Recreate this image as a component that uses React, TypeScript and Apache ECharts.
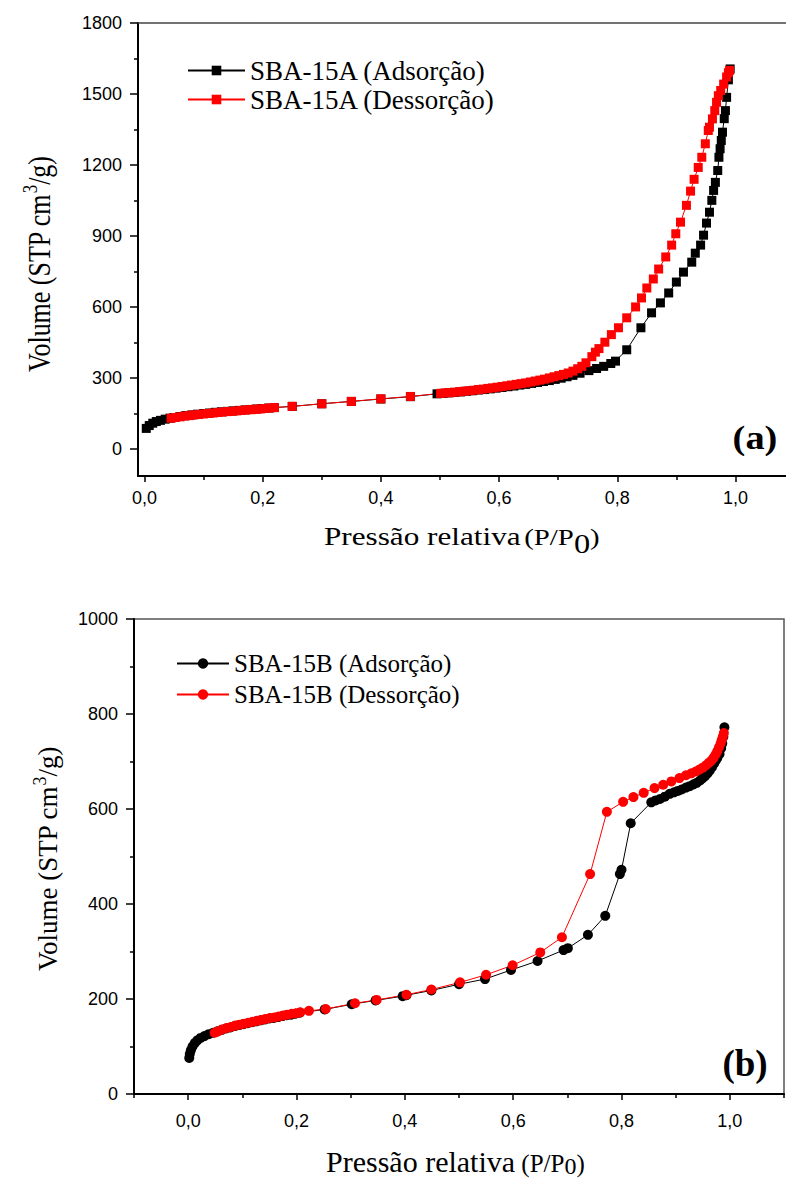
import React, { useEffect, useRef } from "react";
import * as echarts from "echarts";

// ---------- DATA ----------
const seriesNamesA = ["SBA-15A (Adsorção)", "SBA-15A (Dessorção)"];
const seriesNamesB = ["SBA-15B (Adsorção)", "SBA-15B (Dessorção)"];

// (a) adsorption [P/P0, volume]
const adsorptionA: [number, number][] = [
  [0.003, 88], [0.008, 100], [0.014, 110], [0.020, 117], [0.027, 122], [0.035, 127], [0.043, 131],
  [0.050, 134], [0.060, 138], [0.070, 142], [0.080, 145], [0.090, 148], [0.100, 151], [0.110, 153],
  [0.120, 156], [0.130, 158], [0.140, 160], [0.150, 162], [0.160, 164], [0.170, 166], [0.180, 168],
  [0.190, 170], [0.200, 172], [0.210, 174], [0.220, 176], [0.250, 181], [0.300, 192], [0.350, 202],
  [0.400, 212], [0.450, 222], [0.495, 234], [0.505, 236], [0.515, 238], [0.525, 240], [0.535, 242],
  [0.545, 245], [0.555, 247], [0.565, 250], [0.575, 252], [0.585, 255], [0.595, 258], [0.605, 261],
  [0.615, 264], [0.625, 267], [0.635, 271], [0.645, 274], [0.655, 278], [0.665, 282], [0.675, 286],
  [0.685, 290], [0.695, 295], [0.705, 300], [0.715, 306], [0.725, 312], [0.737, 321], [0.752, 332],
  [0.765, 341], [0.777, 350], [0.789, 362], [0.797, 372], [0.816, 420], [0.840, 513], [0.858, 576],
  [0.873, 618], [0.887, 660], [0.900, 706], [0.912, 748], [0.926, 790], [0.932, 828], [0.941, 862],
  [0.946, 904], [0.951, 955], [0.956, 1001], [0.960, 1051], [0.963, 1093], [0.966, 1127], [0.970, 1177],
  [0.972, 1233], [0.974, 1269], [0.976, 1304], [0.978, 1339], [0.981, 1396], [0.983, 1430], [0.985, 1486],
  [0.988, 1560], [0.991, 1606],
];

// (a) desorption [P/P0, volume]
const desorptionA: [number, number][] = [
  [0.990, 1600], [0.988, 1590], [0.985, 1572], [0.980, 1542], [0.975, 1515], [0.971, 1493], [0.968, 1465],
  [0.965, 1430], [0.961, 1395], [0.956, 1360], [0.954, 1346], [0.949, 1290], [0.943, 1233], [0.937, 1190],
  [0.930, 1140], [0.924, 1090], [0.917, 1030], [0.907, 959], [0.899, 910], [0.892, 862], [0.882, 812],
  [0.870, 761], [0.861, 719], [0.850, 681], [0.841, 639], [0.831, 601], [0.816, 555], [0.802, 513],
  [0.790, 484], [0.779, 452], [0.769, 425], [0.763, 410], [0.757, 391], [0.747, 365], [0.740, 350],
  [0.733, 340], [0.725, 330], [0.717, 322], [0.709, 316], [0.701, 311], [0.693, 306], [0.685, 301],
  [0.677, 296], [0.669, 292], [0.661, 288], [0.653, 284], [0.645, 280], [0.637, 277], [0.629, 274],
  [0.621, 271], [0.613, 268], [0.605, 265], [0.597, 262], [0.589, 259], [0.581, 257], [0.573, 254],
  [0.565, 252], [0.557, 249], [0.549, 247], [0.541, 245], [0.533, 243], [0.525, 241], [0.517, 239],
  [0.509, 238], [0.501, 236], [0.450, 223], [0.400, 213], [0.350, 202], [0.300, 192], [0.250, 181],
  [0.220, 176], [0.212, 174], [0.204, 172], [0.196, 170], [0.188, 169], [0.180, 167], [0.172, 166],
  [0.164, 164], [0.156, 162], [0.148, 160], [0.140, 159], [0.132, 157], [0.124, 155], [0.116, 153],
  [0.108, 151], [0.100, 149], [0.092, 147], [0.084, 145], [0.076, 142], [0.068, 140], [0.060, 137],
  [0.052, 134], [0.045, 131],
];

// (b) adsorption [P/P0, volume]
const adsorptionB: [number, number][] = [
  [0.002, 76], [0.003, 84], [0.005, 92], [0.008, 100], [0.012, 107], [0.017, 113], [0.023, 118],
  [0.030, 122], [0.038, 126], [0.046, 129], [0.054, 132], [0.062, 135], [0.070, 138], [0.078, 140],
  [0.086, 143], [0.094, 145], [0.102, 147], [0.110, 149], [0.118, 151], [0.126, 153], [0.134, 155],
  [0.142, 157], [0.150, 159], [0.158, 160], [0.166, 162], [0.174, 164], [0.182, 166], [0.190, 167],
  [0.198, 169], [0.206, 171], [0.252, 178], [0.302, 189], [0.346, 197], [0.396, 206], [0.403, 208],
  [0.449, 218], [0.500, 231], [0.548, 242], [0.596, 261], [0.645, 280], [0.693, 303], [0.701, 307],
  [0.738, 335], [0.770, 375], [0.797, 463], [0.800, 472], [0.817, 570], [0.855, 614], [0.863, 618],
  [0.871, 621], [0.880, 626], [0.889, 632], [0.897, 635], [0.904, 638], [0.911, 641], [0.919, 645],
  [0.926, 648], [0.933, 652], [0.939, 655], [0.945, 660], [0.950, 665], [0.954, 669], [0.959, 675],
  [0.963, 681], [0.967, 688], [0.971, 696], [0.974, 702], [0.977, 708], [0.981, 716], [0.984, 728],
  [0.986, 738], [0.988, 752], [0.990, 772],
];

// (b) desorption [P/P0, volume]
const desorptionB: [number, number][] = [
  [0.989, 760], [0.987, 752], [0.985, 745], [0.983, 738], [0.980, 730], [0.977, 722], [0.974, 715],
  [0.970, 708], [0.966, 702], [0.961, 697], [0.956, 692], [0.950, 687], [0.944, 683], [0.937, 679],
  [0.929, 675], [0.919, 671], [0.907, 665], [0.892, 658], [0.877, 651], [0.861, 644], [0.841, 634],
  [0.822, 625], [0.803, 615], [0.773, 594], [0.742, 463], [0.690, 330], [0.650, 298], [0.599, 271],
  [0.550, 251], [0.502, 235], [0.449, 220], [0.403, 209], [0.348, 198], [0.308, 191], [0.254, 179],
  [0.223, 175], [0.207, 172], [0.199, 170], [0.191, 169], [0.183, 167], [0.175, 165], [0.167, 163],
  [0.159, 161], [0.151, 160], [0.143, 158], [0.135, 156], [0.127, 154], [0.119, 152], [0.111, 150],
  [0.103, 148], [0.095, 146], [0.087, 144], [0.079, 141], [0.071, 139], [0.063, 136], [0.055, 132],
  [0.049, 129],
];

// tick values
const yTicksA = [0, 300, 600, 900, 1200, 1500, 1800];
const yMinorTicksA = [150, 450, 750, 1050, 1350, 1650];
const xTicksA = [0, 0.2, 0.4, 0.6, 0.8, 1.0];
const xMinorTicksA = [0.1, 0.3, 0.5, 0.7, 0.9];
const xTicksB = [0, 0.2, 0.4, 0.6, 0.8, 1.0];
const xMinorTicksB = [-0.1, 0.1, 0.3, 0.5, 0.7, 0.9, 1.1];

// ---------- STYLE ----------
const SANS = "Liberation Sans, Arial, sans-serif";
const SERIF = "Liberation Serif, Times New Roman, serif";
const BLACK = "#000000";
const RED = "#ff0000";

const fmtX = (v: number) => v.toFixed(1).replace(".", ",");
const fmtY = (v: number) => String(Math.round(v));

type Part = { text: string; size: number; shift: number; gap?: number; weight?: string };

function titleGroup(parts: Part[], x: number, y: number, rotation: number, sx: number, sy: number) {
  const ctx = document.createElement("canvas").getContext("2d")!;
  let cx = 0;
  const children: any[] = [];
  for (const p of parts) {
    cx += p.gap || 0;
    const font = `${p.weight || "normal"} ${p.size}px ${SERIF}`;
    ctx.font = font;
    children.push({
      type: "text",
      x: cx,
      y: p.shift - 0.3375 * p.size,
      silent: true,
      style: {
        text: p.text,
        font,
        fill: BLACK,
        textAlign: "left",
        textVerticalAlign: "middle",
        align: "left",
        verticalAlign: "middle",
      },
    });
    cx += ctx.measureText(p.text).width;
  }
  return { type: "group", x, y, rotation, scaleX: sx, scaleY: sy, children };
}

function buildOption(): any {
  const tickStyle = { color: BLACK, width: 1.5 };
  const labelStyle = { fontFamily: SANS, fontSize: 18, color: BLACK };

  const xMinA = -0.011, xMaxA = 1.0855, yMinA = -113, yMaxA = 1800;
  const xMinB = -0.1, xMaxB = 1.1;

  const lineSeries = (name: string, data: [number, number][], color: string, symbol: string, size: number, xi: number, yi: number) => ({
    name,
    type: "line",
    data,
    xAxisIndex: xi,
    yAxisIndex: yi,
    symbol,
    symbolSize: size,
    showSymbol: true,
    showAllSymbol: true,
    lineStyle: { color, width: 1 },
    itemStyle: { color, borderWidth: 0 },
    emphasis: { disabled: true },
  });

  return {
    animation: false,
    backgroundColor: "#ffffff",
    grid: [
      { left: 138, top: 23, width: 648, height: 453, show: false },
      { left: 134, top: 619, width: 650, height: 475, show: true, borderColor: "#555", borderWidth: 1.5, backgroundColor: "transparent" },
    ],
    xAxis: [
      {
        type: "value", gridIndex: 0, min: xMinA, max: xMaxA, position: "bottom",
        axisLine: { onZero: false, lineStyle: { color: BLACK, width: 2 } },
        axisTick: { customValues: xTicksA, length: 6, lineStyle: tickStyle },
        axisLabel: { customValues: xTicksA, formatter: fmtX, margin: 13, ...labelStyle },
        splitLine: { show: false },
      },
      {
        type: "value", gridIndex: 0, min: xMinA, max: xMaxA, position: "bottom",
        axisLine: { show: false, onZero: false },
        axisTick: { customValues: xMinorTicksA, length: 4, lineStyle: tickStyle },
        axisLabel: { show: false },
        splitLine: { show: false },
      },
      {
        type: "value", gridIndex: 0, min: xMinA, max: xMaxA, position: "top",
        axisLine: { show: true, onZero: false, lineStyle: { color: "#444", width: 1.5 } },
        axisTick: { show: false },
        axisLabel: { show: false },
        splitLine: { show: false },
      },
      {
        type: "value", gridIndex: 1, min: xMinB, max: xMaxB, position: "bottom",
        axisLine: { onZero: false, lineStyle: { color: BLACK, width: 2 } },
        axisTick: { customValues: xTicksB, length: 6, lineStyle: tickStyle },
        axisLabel: { customValues: xTicksB, formatter: fmtX, margin: 18, ...labelStyle },
        splitLine: { show: false },
      },
      {
        type: "value", gridIndex: 1, min: xMinB, max: xMaxB, position: "bottom",
        axisLine: { show: false, onZero: false },
        axisTick: { customValues: xMinorTicksB, length: 4, lineStyle: tickStyle },
        axisLabel: { show: false },
        splitLine: { show: false },
      },
    ],
    yAxis: [
      {
        type: "value", gridIndex: 0, min: yMinA, max: yMaxA, position: "left",
        axisLine: { show: true, onZero: false, lineStyle: { color: BLACK, width: 2 } },
        axisTick: { show: true, customValues: yTicksA, length: 8, lineStyle: tickStyle },
        axisLabel: { customValues: yTicksA, formatter: fmtY, margin: 16, ...labelStyle },
        splitLine: { show: false },
      },
      {
        type: "value", gridIndex: 0, min: yMinA, max: yMaxA, position: "left",
        axisLine: { show: false, onZero: false },
        axisTick: { show: true, customValues: yMinorTicksA, length: 4, lineStyle: tickStyle },
        axisLabel: { show: false },
        splitLine: { show: false },
      },
      {
        type: "value", gridIndex: 1, min: 0, max: 1000, interval: 200, position: "left",
        axisLine: { show: true, onZero: false, lineStyle: { color: BLACK, width: 2 } },
        axisTick: { show: true, length: 8, lineStyle: tickStyle },
        minorTick: { show: true, splitNumber: 2, length: 4, lineStyle: tickStyle },
        axisLabel: { formatter: fmtY, margin: 16, ...labelStyle },
        splitLine: { show: false },
      },
    ],
    legend: [
      {
        data: seriesNamesA, orient: "vertical", left: 187, top: 56, padding: 0,
        itemWidth: 57, itemHeight: 12, itemGap: 0, selectedMode: false,
        textStyle: { fontFamily: SERIF, fontSize: 27, color: BLACK, lineHeight: 29 },
      },
      {
        data: seriesNamesB, orient: "vertical", left: 176, top: 648, padding: 0,
        itemWidth: 52, itemHeight: 13, itemGap: 0, selectedMode: false,
        textStyle: { fontFamily: SERIF, fontSize: 25, color: BLACK, lineHeight: 31 },
      },
    ],
    series: [
      lineSeries(seriesNamesA[0], adsorptionA, BLACK, "rect", 9, 0, 0),
      lineSeries(seriesNamesA[1], desorptionA, RED, "rect", 9, 0, 0),
      lineSeries(seriesNamesB[0], adsorptionB, BLACK, "circle", 10, 3, 2),
      lineSeries(seriesNamesB[1], desorptionB, RED, "circle", 10, 3, 2),
    ],
    graphic: [
      // panel labels
      {
        type: "text", x: 755, y: 438, scaleX: 1.13, silent: true,
        style: { text: "(a)", font: `bold 34px ${SERIF}`, fill: BLACK, textAlign: "center", textVerticalAlign: "middle", align: "center", verticalAlign: "middle" },
      },
      {
        type: "text", x: 745, y: 1063, silent: true,
        style: { text: "(b)", font: `bold 37px ${SERIF}`, fill: BLACK, textAlign: "center", textVerticalAlign: "middle", align: "center", verticalAlign: "middle" },
      },
      // axis titles (a)
      titleGroup(
        [
          { text: "Volume (STP cm", size: 26, shift: 0 },
          { text: "3", size: 17, shift: -11 },
          { text: "/g)", size: 26, shift: 0 },
        ],
        50, 372, Math.PI / 2, 1, 1.2
      ),
      titleGroup(
        [
          { text: "Pressão relativa", size: 26, shift: 0 },
          { text: "(P/P", size: 24, shift: 0, gap: 3 },
          { text: "0", size: 27, shift: 8 },
          { text: ")", size: 24, shift: 0 },
        ],
        324, 545, 0, 1.2, 1
      ),
      // axis titles (b)
      titleGroup(
        [
          { text: "Volume (STP cm", size: 27, shift: 0 },
          { text: "3", size: 18, shift: -11 },
          { text: "/g)", size: 27, shift: 0 },
        ],
        57, 971, Math.PI / 2, 1, 1
      ),
      titleGroup(
        [
          { text: "Pressão relativa", size: 30, shift: 0 },
          { text: " (P/P", size: 25, shift: 0 },
          { text: "0", size: 24, shift: 2 },
          { text: ")", size: 25, shift: 0 },
        ],
        326, 1172, 0, 1, 1
      ),
    ],
  };
}

export default function App() {
  const ref = useRef<HTMLDivElement>(null);
  useEffect(() => {
    document.body.style.margin = "0";
    const chart = echarts.init(ref.current!, null, { renderer: "svg" });
    chart.setOption(buildOption());
    return () => chart.dispose();
  }, []);
  return <div ref={ref} style={{ width: 786, height: 1182 }} />;
}
